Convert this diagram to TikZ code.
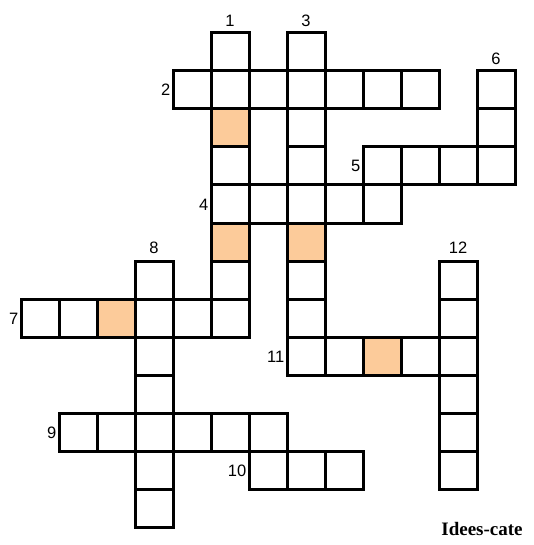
\documentclass[tikz,border=0pt]{standalone}
\usepackage{fontspec}
\setmainfont{Liberation Sans}
\newfontfamily\credfont{Liberation Serif}
\definecolor{cellorange}{HTML}{FCCB9A}
\begin{document}
\begin{tikzpicture}[x=1pt,y=-1pt,
  cellbox/.style={draw=black, line width=3pt, fill=white, minimum size=38pt, inner sep=0pt, outer sep=0pt},
  shaded/.style={cellbox, fill=cellorange},
  numlbl/.style={inner sep=0pt, font=\fontsize{16.5}{19}\selectfont},
  toplbl/.style={numlbl, anchor=base},
  leftlbl/.style={numlbl, anchor=base east}]
\useasboundingbox[fill=white] (0,0) rectangle (534,545);
% word 1 (down)
\foreach \r in {0,...,7} \node[cellbox] (w1-\r) at ({40+38*5},{52+38*\r}) {};
% word 3 (down)
\foreach \r in {0,...,8} \node[cellbox] (w3-\r) at ({40+38*7},{52+38*\r}) {};
% word 2 (across)
\foreach \c in {4,...,10} \node[cellbox] (w2-\c) at ({40+38*\c},{52+38*1}) {};
% word 6 (down)
\foreach \r in {1,...,3} \node[cellbox] (w6-\r) at ({40+38*12},{52+38*\r}) {};
% word 5 (across)
\foreach \c in {9,...,12} \node[cellbox] (w5-\c) at ({40+38*\c},{52+38*3}) {};
% word 4 (across)
\foreach \c in {5,...,9} \node[cellbox] (w4-\c) at ({40+38*\c},{52+38*4}) {};
% word 8 (down)
\foreach \r in {6,...,12} \node[cellbox] (w8-\r) at ({40+38*3},{52+38*\r}) {};
% word 7 (across)
\foreach \c in {0,...,5} \node[cellbox] (w7-\c) at ({40+38*\c},{52+38*7}) {};
% word 12 (down)
\foreach \r in {6,...,11} \node[cellbox] (w12-\r) at ({40+38*11},{52+38*\r}) {};
% word 11 (across)
\foreach \c in {7,...,11} \node[cellbox] (w11-\c) at ({40+38*\c},{52+38*8}) {};
% word 9 (across)
\foreach \c in {1,...,6} \node[cellbox] (w9-\c) at ({40+38*\c},{52+38*10}) {};
% word 10 (across)
\foreach \c in {6,...,8} \node[cellbox] (w10-\c) at ({40+38*\c},{52+38*11}) {};
% shaded cells
\node[shaded] (o1) at ({40+38*5},{52+38*2}) {};
\node[shaded] (o2) at ({40+38*5},{52+38*5}) {};
\node[shaded] (o3) at ({40+38*7},{52+38*5}) {};
\node[shaded] (o4) at ({40+38*2},{52+38*7}) {};
\node[shaded] (o5) at ({40+38*9},{52+38*8}) {};
% numbers
\node[toplbl] (n1) at (230,27) {1};
\node[toplbl] (n3) at (306,27) {3};
\node[toplbl] (n6) at (496,65) {6};
\node[toplbl] (n8) at (154,253) {8};
\node[toplbl] (n12) at (458,253) {12};
\node[leftlbl] (n2) at (170.5,96) {2};
\node[leftlbl] (n5) at (360.5,172) {5};
\node[leftlbl] (n4) at (208.5,210) {4};
\node[leftlbl] (n7) at (18.5,324) {7};
\node[leftlbl] (n11) at (284.5,362) {11};
\node[leftlbl] (n9) at (56.5,438) {9};
\node[leftlbl] (n10) at (246.5,476) {10};
% credit
\node[inner sep=0pt, font=\credfont\bfseries\fontsize{19}{22}\selectfont] (credit) at (482,529) {Idees-cate};
\end{tikzpicture}
\end{document}
